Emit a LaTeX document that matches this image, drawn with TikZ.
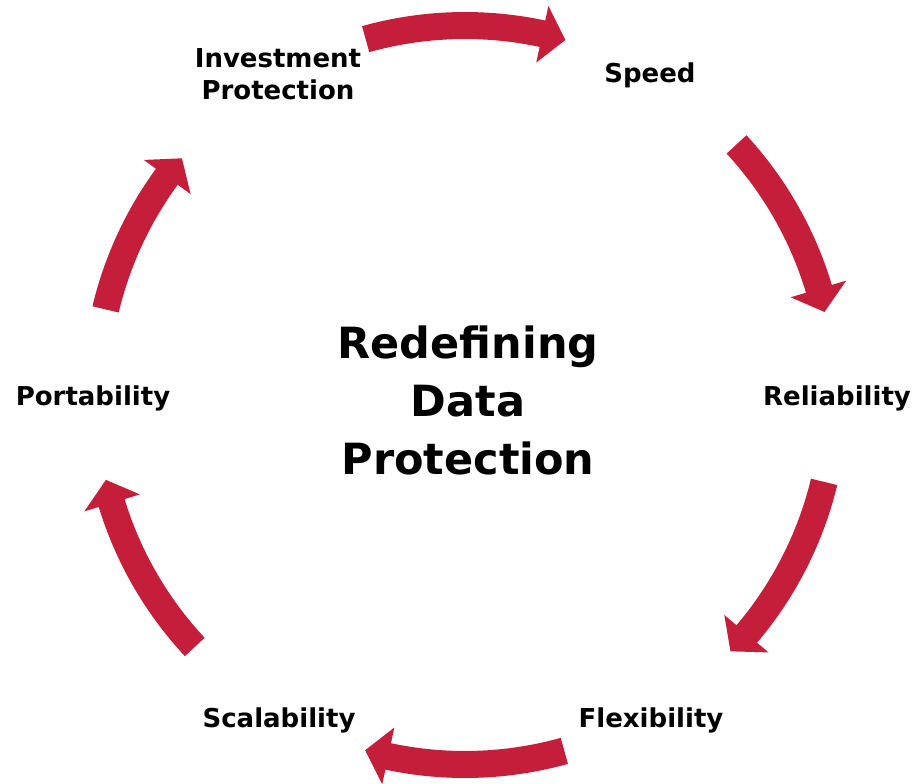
\documentclass[tikz,border=0pt]{standalone}
\usepackage{fontspec}
\setmainfont{DejaVu Sans}
\definecolor{arrowred}{RGB}{196,30,58}
\newcommand\cyclearrow[2]{%
  \pgfmathsetmacro\hb{#2+3.7}%
  \fill[arrowred] (#1:356) arc[start angle=#1, end angle=\hb, radius=356]
    -- (\hb:340) -- (#2:369) -- (\hb:398) -- (\hb:383)
    arc[start angle=\hb, end angle=#1, radius=383] -- cycle;}
\begin{document}
\begin{tikzpicture}[x=1pt,y=1pt,
  lbl/.style={font=\bfseries\fontsize{26}{32}\selectfont, align=center, inner sep=0pt},
  ctr/.style={font=\bfseries\fontsize{43}{58}\selectfont, align=center, inner sep=0pt}]
\useasboundingbox (-465,-389) rectangle (451,395);
\cyclearrow{105.6}{74.2}
\cyclearrow{42.7}{13.0}
\cyclearrow{-13.6}{-44.0}
\cyclearrow{-74.4}{-105.7}
\cyclearrow{223}{193.3}
\cyclearrow{166.6}{140.1}
\node[lbl] (inv) at (-187,321) {Investment\\Protection};
\node[lbl] (spd) at (185,320) {Speed};
\node[lbl] (rel) at (372,-3) {Reliability};
\node[lbl] (flx) at (186,-325) {Flexibility};
\node[lbl] (scl) at (-186,-325) {Scalability};
\node[lbl] (prt) at (-372,-3) {Portability};
\node[ctr] (mid) at (3,-5) {Redefining\\Data\\Protection};
\end{tikzpicture}
\end{document}
